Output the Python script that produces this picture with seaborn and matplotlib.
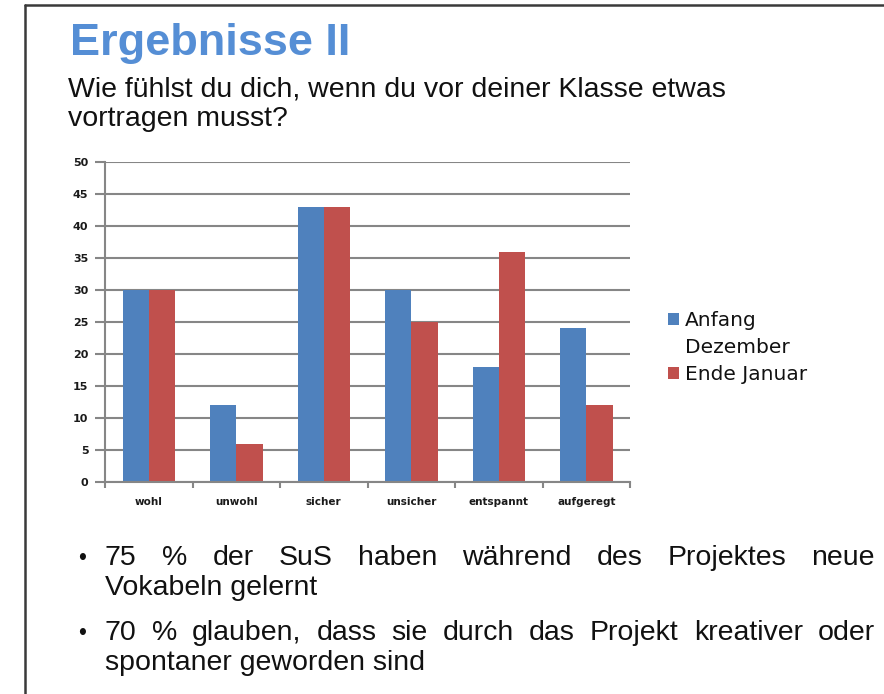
import matplotlib
matplotlib.use("Agg")
import matplotlib.pyplot as plt
import seaborn as sns
import pandas as pd
from matplotlib.patches import Patch
from matplotlib.lines import Line2D

categories = ["wohl", "unwohl", "sicher", "unsicher", "entspannt", "aufgeregt"]
anfang_dezember = [30, 12, 43, 30, 18, 24]
ende_januar = [30, 6, 43, 25, 36, 12]
series_names = ["Anfang Dezember", "Ende Januar"]
yticks = [0, 5, 10, 15, 20, 25, 30, 35, 40, 45, 50]

title = "Ergebnisse II"
subtitle_lines = ["Wie fühlst du dich, wenn du vor deiner Klasse etwas", "vortragen musst?"]
bullet1 = ["75 % der SuS haben während des Projektes neue", "Vokabeln gelernt"]
bullet2 = ["70 % glauben, dass sie durch das Projekt kreativer oder", "spontaner geworden sind"]
legend_labels = ["Anfang", "Dezember", "Ende Januar"]

blue = "#4F81BD"
red = "#C0504D"

sns.set_theme(style="white")
plt.rcParams["font.family"] = ["Liberation Sans", "DejaVu Sans"]

W, H = 884, 694
fig = plt.figure(figsize=(W / 100, H / 100), dpi=100)
fig.patch.set_facecolor("white")

def fx(x):
    return x / W

def fy(y):
    return 1 - y / H

ax = fig.add_axes([fx(105), fy(482), fx(630) - fx(105), fy(162) - fy(482)])

df = pd.DataFrame({
    "Kategorie": categories * 2,
    "Wert": anfang_dezember + ende_januar,
    "Serie": [series_names[0]] * len(categories) + [series_names[1]] * len(categories),
})

sns.barplot(data=df, x="Kategorie", y="Wert", hue="Serie", order=categories,
            hue_order=series_names, palette=[blue, red], width=0.6,
            saturation=1, ax=ax, errorbar=None, linewidth=0, legend=False)

gray = "#868686"
ax.set_ylim(0, 50)
ax.set_xlim(-0.5, len(categories) - 0.5)
ax.set_yticks(yticks)
ax.set_yticklabels([str(t) for t in yticks], fontsize=8, fontweight="bold",
                   color="#1a1a1a", family=["DejaVu Sans"])
ax.set_xticklabels(categories, fontsize=7.5, fontweight="bold", color="#1a1a1a",
                   family=["DejaVu Sans"])
ax.set_xlabel("")
ax.set_ylabel("")
ax.yaxis.grid(True, color=gray, linewidth=1.5)
ax.set_axisbelow(True)
for s in ["top", "right"]:
    ax.spines[s].set_visible(False)
for s in ["left", "bottom"]:
    ax.spines[s].set_visible(True)
    ax.spines[s].set_color(gray)
    ax.spines[s].set_linewidth(1.5)
ax.tick_params(axis="y", which="both", left=True, length=7, width=1.5, color=gray, pad=5)
ax.set_xticks([i - 0.5 for i in range(len(categories) + 1)], minor=True)
ax.tick_params(axis="x", which="major", bottom=False, pad=5)
ax.tick_params(axis="x", which="minor", bottom=True, length=4, width=1.5, color=gray)

# legend
handles = [Patch(facecolor=blue, edgecolor="none"),
           Line2D([], [], color="none"),
           Patch(facecolor=red, edgecolor="none")]
leg = fig.legend(handles, legend_labels, loc="upper left", bbox_to_anchor=(fx(668), fy(311)),
                 frameon=False, handlelength=0.55, handleheight=0.55,
                 handletextpad=0.3, labelspacing=0.4, borderaxespad=0, borderpad=0,
                 prop={"family": "DejaVu Sans", "size": 14.5})
for t in leg.get_texts():
    t.set_color("#111111")

# titles
fig.text(fx(70), fy(55), title, fontsize=32.5, fontweight="bold", color="#558ED5",
         ha="left", va="baseline")
for line, yb in zip(subtitle_lines, [96, 126]):
    fig.text(fx(68), fy(yb), line, fontsize=20.5, color="#111111", ha="left",
             va="baseline")

# frame lines
fig.add_artist(Line2D([fx(25), fx(25)], [fy(5), 0], color="#3a3a3a", linewidth=1.8))
fig.add_artist(Line2D([fx(25), 1], [fy(5), fy(5)], color="#3a3a3a", linewidth=1.8))

# bullets
fs_b = 20.5
fig.canvas.draw()
renderer = fig.canvas.get_renderer()

def justify(words, x0, x1, ybase):
    arts = [fig.text(0, fy(ybase), w, fontsize=fs_b, color="#111111", ha="left",
                     va="baseline") for w in words]
    widths = [a.get_window_extent(renderer).width for a in arts]
    gap = (x1 - x0 - sum(widths)) / max(len(words) - 1, 1)
    x = x0
    for a, w in zip(arts, widths):
        a.set_x(fx(x))
        x += w + gap

def plain(text, x0, ybase):
    fig.text(fx(x0), fy(ybase), text, fontsize=fs_b, color="#111111", ha="left",
             va="baseline")

for bl, yb in [(bullet1, 565), (bullet2, 640)]:
    fig.text(fx(78), fy(yb), "•", fontsize=fs_b * 0.8, color="#111111", ha="left", va="baseline")
    justify(bl[0].split(" "), 105, 875, yb)
    plain(bl[1], 105, yb + 30)

fig.savefig("out.png", dpi=100, facecolor="white")
